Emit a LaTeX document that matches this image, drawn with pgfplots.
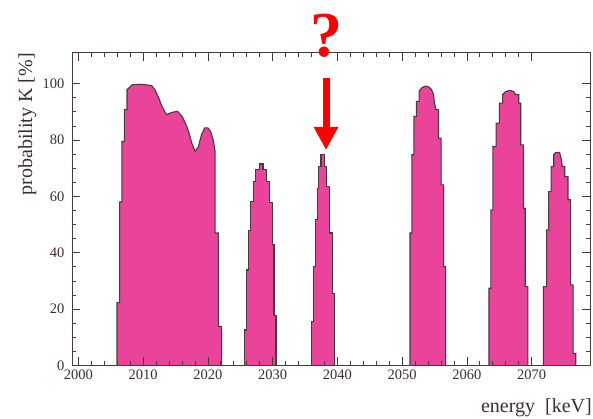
\documentclass[border=0pt]{standalone}
\usepackage{pgfplots}
\pgfplotsset{compat=1.18}
\usepackage{fontspec}
\setmainfont{Liberation Serif}
\usetikzlibrary{arrows.meta}
\definecolor{pinkc}{HTML}{E9449A}
\definecolor{outc}{HTML}{4A3A3A}
\definecolor{txtc}{HTML}{3D2E2E}
\begin{document}
\begin{tikzpicture}[x=1pt,y=1pt]
\path[use as bounding box] (0,0) rectangle (593,419);
\begin{axis}[
  at={(72pt,53.5pt)}, anchor=south west, scale only axis,
  width=518pt, height=312.8pt,
  xmin=1999, xmax=2079, ymin=0, ymax=111,
  xtick={2000,2010,...,2070}, minor x tick num=4,
  ytick={0,20,...,100}, minor y tick num=3,
  tick align=inside, major tick length=8pt, minor tick length=4pt,
  xtick pos=both, ytick pos=both,
  axis line style={color=outc, line width=1pt},
  every tick/.style={color=outc, line width=0.9pt},
  ticklabel style={font=\fontsize{14.5}{14.5}\selectfont, text=txtc},
  yticklabel style={xshift=-4pt},
  xticklabel style={yshift=-0.5pt},
  /pgf/number format/assume math mode=true,
  /pgf/number format/1000 sep={},
  axis on top,
]
\addplot[fill=pinkc, draw=outc, line width=1.1pt] coordinates {
(2005.95,0)(2005.95,22.3)(2006.35,22.3)(2006.35,58)(2006.7,58)(2006.7,79.5)(2007.1,79.5)(2007.1,90.8)(2007.5,90.8)(2007.5,97.9)
(2008.3,99.6)(2009.5,99.8)(2010.5,99.6)(2011.3,99.3)(2011.8,97.9)(2012.4,94.9)(2012.9,91.9)(2013.6,89.0)(2014.4,89.8)(2015.3,90.2)
(2016.0,88.4)(2016.5,86.0)(2017.0,83.1)(2017.5,78.9)(2018.0,76.0)(2018.5,77.5)(2019.0,81.9)(2019.5,84.3)(2020.0,84.3)(2020.4,83.1)
(2020.8,80.1)(2021.1,76.0)(2021.1,47)(2021.6,47)(2021.6,13.8)(2022.1,13.8)(2022.1,0)
};
\addplot[fill=pinkc, draw=outc, line width=1.1pt] coordinates {
(2025.7,0)(2025.7,12.6)(2025.95,12.6)(2025.95,33.9)(2026.2,33.9)(2026.2,48)(2026.6,48)(2026.6,58.2)(2027.0,58.2)(2027.0,65.3)
(2027.4,65.3)(2027.4,69.4)(2027.9,69.4)(2027.9,71.5)(2028.5,71.5)(2028.5,69.4)(2029.1,69.4)(2029.1,65.3)(2029.5,65.3)(2029.5,57.7)
(2030.0,57.7)(2030.0,42.8)(2030.2,42.8)(2030.2,17.9)(2030.5,17.9)(2030.5,0)
};
\addplot[fill=pinkc, draw=outc, line width=1.1pt] coordinates {
(2035.95,0)(2035.95,15.6)(2036.3,15.6)(2036.3,35.1)(2036.6,35.1)(2036.6,51.7)(2036.9,51.7)(2036.9,62.9)(2037.1,62.9)(2037.1,70.6)
(2037.45,70.6)(2037.45,74.8)(2037.95,74.8)(2037.95,70.6)(2038.3,70.6)(2038.3,63.5)(2038.8,63.5)(2038.8,47)(2039.2,47)(2039.2,25.7)
(2039.5,25.7)(2039.5,0)
};
\addplot[fill=pinkc, draw=outc, line width=1.1pt] coordinates {
(2051.2,0)(2051.2,47)(2051.5,47)(2051.5,74.8)(2051.8,74.8)(2051.8,88.4)(2052.2,88.4)(2052.2,93.7)(2052.6,93.7)(2052.6,97.3)
(2053.0,98.5)(2053.5,99.1)(2054.0,99)(2054.5,98)(2054.8,96.5)(2055.0,93)(2055.2,90.8)(2055.6,90.8)(2055.6,80.7)(2056.0,80.7)
(2056.0,64.1)(2056.4,64.1)(2056.4,35.1)(2056.7,35.1)(2056.7,0)
};
\addplot[fill=pinkc, draw=outc, line width=1.1pt] coordinates {
(2063.4,0)(2063.4,27.4)(2063.7,27.4)(2063.7,55.2)(2064.0,55.2)(2064.0,77.7)(2064.5,77.7)(2064.5,86)(2065.0,86)(2065.0,93.1)
(2065.5,93.1)(2065.5,96.1)(2066.0,97.3)(2066.7,97.6)(2067.2,97.2)(2067.5,96.1)(2068.0,96.1)(2068.0,93.1)(2068.3,93.1)(2068.3,78.3)
(2068.7,78.3)(2068.7,55.8)(2069.0,55.8)(2069.0,28)(2069.4,28)(2069.4,0)
};
\addplot[fill=pinkc, draw=outc, line width=1.1pt] coordinates {
(2071.8,0)(2071.8,28)(2072.3,28)(2072.3,48.1)(2072.6,48.1)(2072.6,61.7)(2073.0,61.7)(2073.0,70.6)(2073.4,70.6)(2073.4,74.8)
(2073.7,75.6)(2074.3,75.6)(2074.6,73)(2074.7,70.6)(2075.1,70.6)(2075.1,67)(2075.6,67)(2075.6,58.8)(2076.0,58.8)(2076.0,28.6)
(2076.4,28.6)(2076.4,4.3)(2076.8,4.3)(2076.8,0)
};
\end{axis}
\node[rotate=90, anchor=base east, text=txtc, font=\fontsize{20}{20}\selectfont, inner sep=0pt] at (32,366) {probability K [\%]};
\node[anchor=base east, text=txtc, font=\fontsize{20}{20}\selectfont, inner sep=0pt] at (592,6) {energy\ \ [keV]};
\node[anchor=base, text=red, font=\bfseries\fontsize{64}{64}\selectfont, inner sep=0pt] at (326,362) {?};
\draw[red, line width=7pt, -{Triangle[width=23pt,length=23pt]}] (326,341) -- (326,269);
\end{tikzpicture}
\end{document}
